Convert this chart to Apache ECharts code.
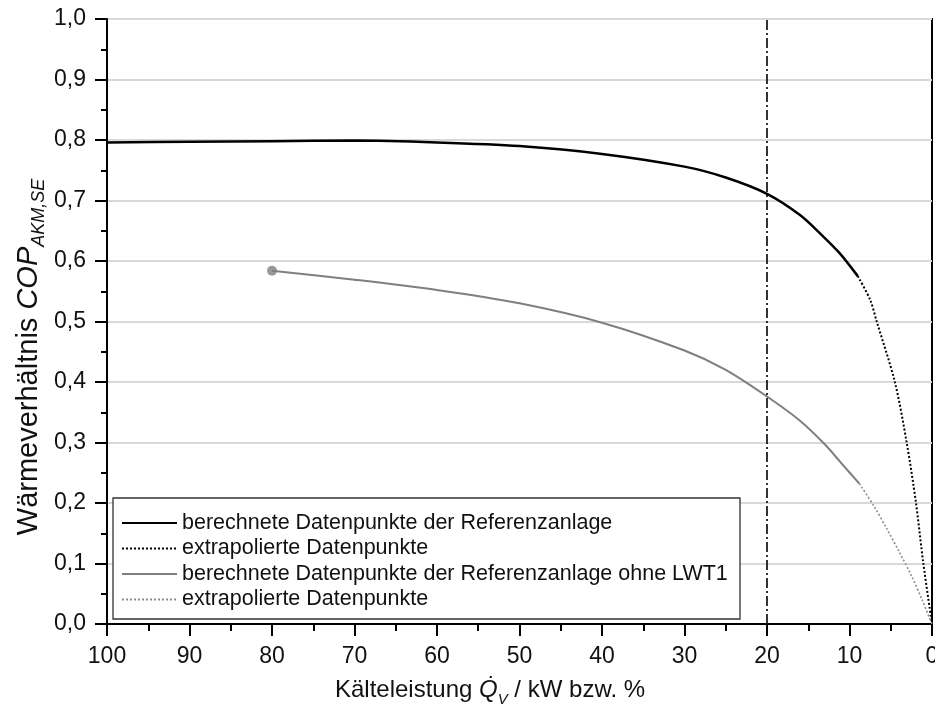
<!DOCTYPE html>
<html><head><meta charset="utf-8">
<script src="https://cdn.jsdelivr.net/npm/echarts@6/dist/echarts.min.js"></script>
<style>html,body{margin:0;padding:0;background:#fff}#c{width:935px;height:713px}</style>
</head><body><div id="c"></div>
<script>
// ---- data ----
const xRange = [0, 100];          // Kälteleistung / kW bzw. %
const yRange = [0, 1];            // COP
const xStep = 10;
const yStep = 0.1;

const refQ   = [100, 90, 80, 70, 60, 50, 40, 30, 25, 20, 16, 13.6, 11.2, 9.0];
const refCOP = [0.796, 0.797, 0.798, 0.799, 0.796, 0.790, 0.777, 0.756, 0.738, 0.711, 0.676, 0.646, 0.613, 0.575];

const refExtQ   = [9.0, 7.5, 6.7, 4.5, 3.07, 1.94, 1.05, 0];
const refExtCOP = [0.575, 0.536, 0.500, 0.400, 0.300, 0.200, 0.100, 0];

const noLwtQ   = [80, 70, 60, 50, 40, 30, 25, 20, 16, 13, 11, 8.8];
const noLwtCOP = [0.584, 0.569, 0.552, 0.530, 0.498, 0.452, 0.420, 0.376, 0.336, 0.297, 0.266, 0.232];

const noLwtExtQ   = [8.8, 7.0, 5.5, 4.0, 2.5, 1.2, 0];
const noLwtExtCOP = [0.232, 0.194, 0.158, 0.120, 0.080, 0.040, 0];

const startDotQ = [80];
const startDotCOP = [0.584];

const markerQ = [20, 20];
const markerCOP = [0, 1];

const legendNames = {
  ref: 'berechnete Datenpunkte der Referenzanlage',
  refExt: 'extrapolierte Datenpunkte',
  noLwt: 'berechnete Datenpunkte der Referenzanlage ohne LWT1',
  noLwtExt: 'extrapolierte Datenpunkte'
};

// ---- chart ----
const FONT = '"Liberation Sans", Arial, sans-serif';
const zip = (a, b) => a.map((x, i) => [x, b[i]]);
const chart = echarts.init(document.getElementById('c'), null, {renderer: 'canvas'});

const option = {
  animation: false,
  backgroundColor: '#fff',
  grid: {left: 107, right: 3, top: 19, bottom: 89, show: true, borderColor: '#000', borderWidth: 2,
         backgroundColor: 'transparent', containLabel: false, outerBoundsMode: 'none'},
  xAxis: {
    type: 'value', inverse: true, min: xRange[0], max: xRange[1], interval: xStep,
    axisLine: {onZero: false, lineStyle: {color: '#000', width: 2}},
    axisTick: {length: 12, lineStyle: {color: '#000', width: 2}},
    minorTick: {show: true, splitNumber: 2, length: 7, lineStyle: {color: '#000', width: 2}},
    splitLine: {show: false},
    axisLabel: {fontSize: 23, color: '#111', margin: 21, fontFamily: FONT, hideOverlap: false}
  },
  yAxis: {
    type: 'value', min: yRange[0], max: yRange[1], interval: yStep,
    axisLine: {onZero: false, lineStyle: {color: '#000', width: 2}},
    axisTick: {length: 12, lineStyle: {color: '#000', width: 2}},
    minorTick: {show: true, splitNumber: 2, length: 6, lineStyle: {color: '#000', width: 2}},
    splitLine: {show: true, lineStyle: {color: '#d9d9d9', width: 2}},
    axisLabel: {fontSize: 23, color: '#111', margin: 21, fontFamily: FONT,
      formatter: v => v.toFixed(1).replace('.', ',')}
  },
  legend: {
    orient: 'vertical', left: 116, top: 507, itemWidth: 55, itemHeight: 14, itemGap: 3.5,
    data: ['ref', 'refExt', 'noLwt', 'noLwtExt'],
    formatter: n => legendNames[n],
    itemStyle: {opacity: 0, borderWidth: 0},
    textStyle: {fontSize: 21.5, fontFamily: FONT, color: '#111', lineHeight: 22},
    selectedMode: false, z: 10
  },
  graphic: [
    {type: 'rect', z: 5, shape: {x: 113, y: 498, width: 627, height: 121},
     style: {fill: '#fff', stroke: '#333', lineWidth: 1.3}},
    {type: 'text', z: 10, x: 490, y: 678,
     style: {
       text: '{n|Kälteleistung }{i|Q\u0307}{s|V}{n| / kW bzw. %}',
       align: 'center', verticalAlign: 'top', fill: '#111',
       rich: {
         n: {fontSize: 24, fontFamily: FONT, lineHeight: 24, verticalAlign: 'top', fill: '#111'},
         i: {fontSize: 24, fontFamily: FONT, fontStyle: 'italic', lineHeight: 24, verticalAlign: 'top', fill: '#111'},
         s: {fontSize: 15, fontFamily: FONT, fontStyle: 'italic', lineHeight: 44, verticalAlign: 'middle', fill: '#111'}
       }
     }},
    {type: 'text', z: 10, x: 14, y: 357, rotation: Math.PI / 2,
     style: {
       text: '{n|Wärmeverhältnis }{i|COP}{s|AKM,SE}',
       align: 'center', verticalAlign: 'top', fill: '#111',
       rich: {
         n: {fontSize: 29, fontFamily: FONT, lineHeight: 29, verticalAlign: 'top', fill: '#111'},
         i: {fontSize: 29, fontFamily: FONT, fontStyle: 'italic', lineHeight: 29, verticalAlign: 'top', fill: '#111'},
         s: {fontSize: 18, fontFamily: FONT, fontStyle: 'italic', lineHeight: 50, verticalAlign: 'middle', fill: '#111'}
       }
     }}
  ],
  series: [
    {name: 'ref', type: 'line', data: zip(refQ, refCOP), symbol: 'none', smooth: 0.3, z: 3,
     lineStyle: {color: '#000', width: 2.5}, itemStyle: {color: '#000'}},
    {name: 'refExt', type: 'line', data: zip(refExtQ, refExtCOP), symbol: 'none', smooth: 0.3, z: 3,
     lineStyle: {color: '#000', width: 2, type: [2, 2]}, itemStyle: {color: '#000'}},
    {name: 'noLwt', type: 'line', data: zip(noLwtQ, noLwtCOP), symbol: 'none', smooth: 0.3, z: 3,
     lineStyle: {color: '#7f7f7f', width: 2}, itemStyle: {color: '#7f7f7f'}},
    {name: 'noLwtExt', type: 'line', data: zip(noLwtExtQ, noLwtExtCOP), symbol: 'none', smooth: 0.3, z: 3,
     lineStyle: {color: '#8c8c8c', width: 1.6, type: [2, 2]}, itemStyle: {color: '#8c8c8c'}},
    {name: 'dot', type: 'scatter', data: zip(startDotQ, startDotCOP), symbolSize: 10, z: 4,
     itemStyle: {color: '#808080'}},
    {name: 'marker', type: 'line', data: zip(markerQ, markerCOP), symbol: 'none', z: 2,
     lineStyle: {color: '#000', width: 1.6, type: [10, 3, 2, 3]}}
  ]
};
chart.setOption(option);
</script>
</body></html>
